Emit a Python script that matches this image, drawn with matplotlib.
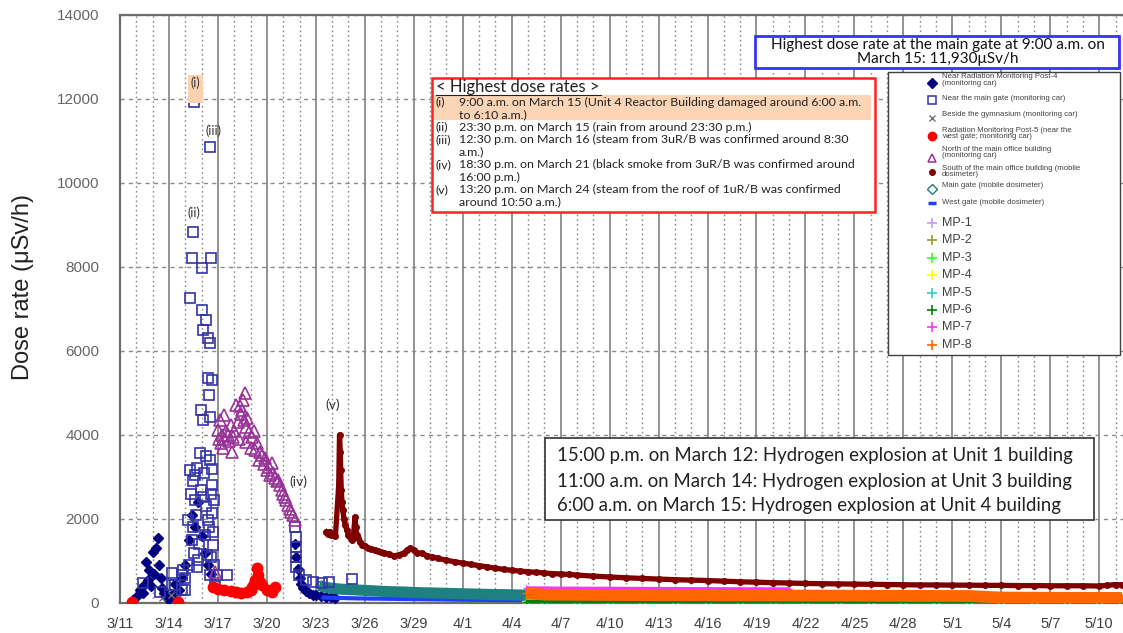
import matplotlib
matplotlib.use("Agg")
import matplotlib.pyplot as plt
from matplotlib.patches import Rectangle
from matplotlib.lines import Line2D
from matplotlib.ticker import MultipleLocator, FixedLocator
import numpy as np

# ---------------- data (day offset from 3/11 00:00, dose rate uSv/h) ----------------
tick_days = list(range(0, 61, 3))
tick_labels = ["3/11", "3/14", "3/17", "3/20", "3/23", "3/26", "3/29", "4/1", "4/4", "4/7",
               "4/10", "4/13", "4/16", "4/19", "4/22", "4/25", "4/28", "5/1", "5/4", "5/7", "5/10"]

post4_day = [0.8, 1.0, 1.2, 1.4, 1.5, 1.6, 1.7, 1.8, 1.9, 2.0, 2.1, 2.2, 2.3, 2.4, 2.5, 2.6, 2.7, 2.8,
             2.9, 3.0, 3.2, 3.4, 3.6, 3.8, 4.0, 4.2, 4.4, 4.6, 4.8, 5.0, 5.2, 5.4, 5.6,
             10.7, 10.8, 10.9, 11.0, 11.1, 11.2, 11.4, 11.6, 11.8, 12.0, 12.3, 12.6, 12.9, 13.2]
post4_val = [60, 150, 300, 250, 420, 980, 550, 790, 400, 1210, 700, 1310, 1550, 900, 600, 350, 250, 180,
             120, 90, 200, 450, 300, 600, 900, 1500, 2100, 1800, 2400, 1600, 1200, 900, 700,
             1400, 1100, 800, 600, 450, 350, 280, 230, 200, 180, 160, 150, 140, 130]

gate_day = [1.4, 2.45, 3.2, 3.2, 3.37, 3.8, 3.8, 3.86, 3.98, 4.0, 4.17, 4.25, 4.29, 4.29, 4.35, 4.41, 4.41,
            4.45, 4.47, 4.5, 4.53, 4.55, 4.6, 4.6, 4.65, 4.72, 4.72, 4.78, 4.85, 4.9, 4.95, 4.96, 5.02,
            5.02, 5.09, 5.09, 5.09, 5.15, 5.2, 5.25, 5.27, 5.3, 5.33, 5.39, 5.39, 5.39, 5.45, 5.45, 5.51,
            5.51, 5.51, 5.51, 5.51, 5.55, 5.58, 5.6, 5.64, 5.64, 5.64, 5.65, 5.7, 5.7, 5.75, 5.76, 5.85,
            5.94, 6.56, 10.72, 10.8, 10.8, 10.8, 10.8, 10.97, 11.4, 11.8, 12.4, 12.8, 14.2]
gate_val = [470, 260, 430, 710, 430, 670, 310, 790, 310, 600, 1980, 900, 3170, 7260, 2600, 8210, 1500,
            2900, 8830, 1800, 11930, 1200, 3050, 2450, 2100, 3210, 860, 1020, 1400, 3570, 2700, 4590, 7970,
            6970, 6500, 4360, 2520, 3100, 1620, 2300, 6740, 3500, 1140, 6300, 5350, 1980, 4950, 1800, 10850,
            6200, 4430, 3400, 670, 1100, 8210, 2600, 5300, 2800, 2140, 3200, 1380, 1700, 900, 2450, 400,
            670, 670, 1810, 1570, 1330, 1090, 860, 670, 550, 500, 475, 500, 570]

gym_day = [2.6, 3.1, 3.6]
gym_val = [120, 180, 150]

post5_day = [0.74, 3.55, 5.7, 6.0, 6.4, 6.8, 7.1, 7.4, 7.78, 8.0, 8.09, 8.2, 8.27, 8.39, 8.46, 8.6, 8.7,
             9.0, 9.3, 9.5]
post5_val = [30, 30, 380, 340, 310, 280, 260, 250, 260, 300, 380, 450, 550, 830, 670, 500, 430,
             310, 260, 380]

north_day = [5.8, 6.0, 6.05, 6.1, 6.2, 6.25, 6.3, 6.4, 6.45, 6.5, 6.6, 6.7, 6.8, 6.85, 6.9, 7.0, 7.1,
             7.2, 7.3, 7.35, 7.4, 7.5, 7.55, 7.6, 7.65, 7.7, 7.75, 7.8, 7.9, 8.0, 8.1, 8.2, 8.3, 8.4, 8.5,
             8.6, 8.7, 8.8, 8.9, 9.0, 9.1, 9.2, 9.3, 9.4, 9.5, 9.6, 9.7, 9.8, 9.9, 10.0, 10.1, 10.2,
             10.3, 10.4, 10.5, 10.6, 10.7]
north_val = [740, 4120, 3900, 4360, 3800, 4000, 3700, 4470, 3900, 4100, 4000, 3850, 4240, 3600, 3950,
             4100, 4710, 4300, 3900, 4700, 4500, 4600, 4830, 4350, 5000, 3830, 4200, 4400, 4070, 3700,
             3950, 4100, 3640, 3800, 3400, 3600, 3520, 3300, 3450, 3170, 3250, 3050, 3330, 3100, 2980,
             2900, 2930, 2800, 2690, 2600, 2520, 2450, 2330, 2250, 2170, 2100, 1980]

south_day = [12.65, 12.75, 12.85, 12.95, 13.05, 13.2, 13.4, 13.45, 13.5, 13.52, 13.56, 13.6, 13.65, 13.72,
             13.8, 13.9, 14.0, 14.1, 14.2, 14.3, 14.4, 14.45, 14.5, 14.6, 14.7, 14.85, 15.0, 15.2, 15.4,
             15.6, 15.8, 16.0, 16.2, 16.5, 16.8, 17.1, 17.4, 17.6, 17.8, 18.0, 18.2, 18.5, 18.8, 19.1,
             19.5, 20.0, 20.5, 21.0, 21.5, 22.0, 22.5, 23.0, 23.5, 24.0, 24.5, 25.0, 25.5, 26.0, 26.5,
             27.0, 27.5, 28.0, 29.0, 30.0, 31.0, 32.0, 33.0, 34.0, 35.0, 36.0, 37.0, 38.0, 39.0, 40.0,
             41.0, 42.0, 43.0, 44.0, 45.0, 46.0, 47.0, 48.0, 49.0, 50.0, 51.0, 52.0, 53.0, 54.0, 55.0,
             56.0, 57.0, 58.0, 59.0, 60.0, 60.5, 61.0, 61.4]
south_val = [1690, 1650, 1700, 1620, 1640, 1600, 2800, 4000, 3600, 3170, 2690, 2400, 2210, 2000,
             1860, 1750, 1620, 1560, 1500, 1600, 2050, 1800, 1620, 1550, 1450, 1380, 1350, 1310, 1290,
             1260, 1240, 1210, 1190, 1160, 1120, 1150, 1190, 1260, 1310, 1260, 1200, 1180, 1130, 1100,
             1060, 1020, 980, 950, 920, 890, 860, 830, 800, 780, 760, 745, 730, 715, 700,
             690, 680, 665, 640, 620, 600, 585, 570, 555, 545, 535, 520, 505, 495, 485,
             475, 465, 460, 455, 450, 445, 440, 435, 430, 430, 425, 425, 420, 420, 415,
             415, 410, 410, 410, 405, 420, 440, 430]

mgate_day = [12.2, 12.5, 13.0, 13.5, 14.0, 14.5, 15.0, 15.5, 16.0, 16.5, 17.0, 17.5, 18.0, 18.5, 19.0,
             19.5, 20.0, 20.5, 21.0, 21.5, 22.0, 22.5, 23.0, 23.5, 24.0, 24.5, 25.0]
mgate_val = [420, 380, 350, 330, 320, 310, 300, 290, 280, 270, 265, 260, 250, 245, 240,
             235, 230, 225, 220, 215, 210, 205, 200, 200, 195, 190, 190]

wgate_day = [12.5, 13.5, 14.5, 15.5, 16.5, 17.5, 18.5, 19.5, 20.5, 21.5, 22.5, 23.5, 24.5]
wgate_val = [130, 120, 110, 105, 100, 95, 90, 85, 80, 75, 75, 70, 70]

mp_day = [24.9, 26, 28, 30, 32, 34, 36, 38, 40, 42, 44, 46, 48, 50, 52, 54, 56, 58, 60, 61.4]
mp1_val = [2, 2, 2, 3, 3, 3, 3, 3, 3, 3, 3, 3, 3, 3, 3, 3, 3, 3, 3, 3]
mp2_val = [70, 68, 66, 65, 64, 63, 62, 61, 60, 60, 59, 58, 58, 57, 57, 56, 56, 55, 55, 55]
mp3_val = [50, 49, 48, 47, 46, 45, 45, 44, 44, 43, 43, 42, 42, 41, 41, 40, 40, 40, 40, 40]
mp4_val = [12, 11, 11, 10, 10, 10, 10, 9, 9, 9, 9, 9, 8, 8, 8, 8, 8, 8, 8, 8]
mp5_val = [6, 6, 6, 6, 5, 5, 5, 5, 5, 5, 5, 5, 5, 5, 5, 5, 5, 5, 5, 5]
mp6_val = [25, 24, 24, 23, 23, 22, 22, 22, 21, 21, 21, 20, 20, 20, 20, 20, 20, 20, 20, 20]
mp7_day = [24.9, 26, 28, 30, 32, 34, 36, 38, 40, 41]
mp7_val = [350, 345, 340, 338, 335, 332, 330, 328, 325, 325]
mp8_val = [240, 200, 195, 190, 188, 185, 182, 180, 178, 176, 174, 172, 170, 168, 166, 130, 126, 124, 122, 120]

# ---------------- figure ----------------
W, H = 1123, 633
plt.rcParams['font.family'] = ['Liberation Sans', 'DejaVu Sans']
fig = plt.figure(figsize=(W / 100, H / 100), dpi=100)
fig.patch.set_facecolor('white')

def fx(x):
    return x / W

def fy(y):
    return 1 - y / H

ax = fig.add_axes([fx(120), 1 - 603 / H, (W - 120) / W, (603 - 15) / H])
ax.set_xlim(0, (W - 120) / 16.32)
ax.set_ylim(0, 14000)
ax.set_axisbelow(True)

ax.xaxis.set_major_locator(FixedLocator(tick_days))
ax.set_xticklabels(tick_labels)
ax.xaxis.set_minor_locator(MultipleLocator(1))
ax.yaxis.set_major_locator(MultipleLocator(2000))
ax.tick_params(axis='both', which='both', length=0)
ax.tick_params(axis='x', pad=10, labelsize=10.5, labelcolor='#404040')
ax.tick_params(axis='y', pad=15, labelsize=11, labelcolor='#666666')
ax.grid(which='major', axis='x', color='#8a8a8a', lw=1.3, ls='-')
ax.grid(which='minor', axis='x', color='#8a8a8a', lw=1.0, ls=(0, (1.2, 2.2)))
ax.grid(which='major', axis='y', color='#8a8a8a', lw=1.0, ls=(0, (3, 3)))
for s in ['left', 'top', 'bottom']:
    ax.spines[s].set_color('#6e6e6e')
    ax.spines[s].set_linewidth(1.6)
ax.spines['right'].set_visible(False)
ax.set_ylabel('Dose rate (μSv/h)', fontsize=17, color='#222222', va='center')
ax.yaxis.set_label_coords((23 - 120) / (W - 120), (603 - 287) / 588)

# ---------------- series ----------------
c_post4 = '#000080'
c_gate = '#3333aa'
c_gym = '#707070'
c_post5 = '#ff0000'
c_north = '#993399'
c_south = '#800000'
c_mgate = '#1f8080'
c_wgate = '#1f3fff'
mp_colors = ['#cc99ff', '#999933', '#33ff33', '#ffff00', '#33cccc', '#008000', '#ff33ff', '#ff6600']

ax.plot(post4_day, post4_val, ls='none', marker='D', ms=5.5, color=c_post4, zorder=3)
ax.plot(gate_day, gate_val, ls='none', marker='s', ms=7.5, mfc='none', mec=c_gate, mew=1.2, zorder=4)
ax.plot(gym_day, gym_val, ls='none', marker='x', ms=5, color=c_gym, zorder=3)
ax.plot(post5_day, post5_val, ls='none', marker='o', ms=7.5, color=c_post5, zorder=4)
ax.plot(north_day, north_val, ls='none', marker='^', ms=8, mfc='none', mec=c_north, mew=1.2, zorder=4)
ax.plot(wgate_day, wgate_val, ls='-', lw=3, color=c_wgate, marker='_', ms=6, zorder=3)
ax.plot(mgate_day, mgate_val, ls='-', lw=8, color=c_mgate, marker='D', ms=4, mfc='none', mec=c_mgate,
        solid_capstyle='butt', zorder=3)
ax.plot(south_day, south_val, ls='-', lw=3.8, color=c_south, marker='o', ms=4, zorder=5)

mp_vals = [mp1_val, mp2_val, mp3_val, mp4_val, mp5_val, mp6_val]
for vals, col in zip(mp_vals, mp_colors[:6]):
    ax.plot(mp_day, vals, ls='-', lw=3, color=col, marker='+', ms=5, solid_capstyle='butt', zorder=3)
ax.plot(mp7_day, mp7_val, ls='-', lw=3, color=mp_colors[6], marker='+', ms=5, solid_capstyle='butt', zorder=3)
ax.plot(mp_day, mp8_val, ls='-', lw=8.5, color=mp_colors[7], marker='+', ms=6, solid_capstyle='butt', zorder=3)

# ---------------- annotations on points ----------------
fig.add_artist(Rectangle((fx(188), fy(103)), 15 / W, 28 / H, transform=fig.transFigure,
                         facecolor='#fbd3b0', edgecolor='none', zorder=0.5))
ann_font = dict(fontsize=9, color='#333333', family=['Lato', 'DejaVu Sans'], ha='center', va='center')
fig.text(fx(195), fy(83), '(i)', **ann_font)
fig.text(fx(214), fy(131), '(iii)', **ann_font)
fig.text(fx(194), fy(213), '(ii)', **ann_font)
fig.text(fx(298), fy(482), '(iv)', fontsize=10, color='#333333', family=['Lato', 'DejaVu Sans'],
         ha='center', va='center')
fig.text(fx(333), fy(405), '(v)', fontsize=10, color='#333333', family=['Lato', 'DejaVu Sans'],
         ha='center', va='center')

# ---------------- blue box ----------------
fig.add_artist(Rectangle((fx(755), fy(68)), (1119 - 755) / W, 32 / H, transform=fig.transFigure,
                         facecolor='white', edgecolor='#3333ff', lw=2, zorder=6))
fig.text(fx(938), fy(52), 'Highest dose rate at the main gate at 9:00 a.m. on\nMarch 15: 11,930μSv/h',
         ha='center', va='center', fontsize=11.0, linespacing=0.95, color='#111111',
         family=['Lato', 'DejaVu Sans'], zorder=7)

# ---------------- red box ----------------
fig.add_artist(Rectangle((fx(432), fy(212)), (875 - 432) / W, (212 - 78) / H, transform=fig.transFigure,
                         facecolor='white', edgecolor='#ff2020', lw=1.8, zorder=6))
fig.add_artist(Rectangle((fx(434), fy(120)), (871 - 434) / W, (120 - 95) / H, transform=fig.transFigure,
                         facecolor='#fbd5b5', edgecolor='none', zorder=6.5))
tf = dict(family=['Lato', 'DejaVu Sans'], color='#222222', zorder=7, va='center', ha='left')
fig.text(fx(436), fy(87), '< Highest dose rates >', fontsize=12, **tf)
fig.add_artist(Line2D([fx(436), fx(601)], [fy(95), fy(95)], transform=fig.transFigure,
                      color='#222222', lw=0.8, zorder=7))
rows = [
    ('(i)', '9:00 a.m. on March 15 (Unit 4 Reactor Building damaged around 6:00 a.m.', 102),
    ('', 'to 6:10 a.m.)', 114.5),
    ('(ii)', '23:30 p.m. on March 15 (rain from around 23:30 p.m.)', 127),
    ('(iii)', '12:30 p.m. on March 16 (steam from 3uR/B was confirmed around 8:30', 139.5),
    ('', 'a.m.)', 152),
    ('(iv)', '18:30 p.m. on March 21 (black smoke from 3uR/B was confirmed around', 164.5),
    ('', '16:00 p.m.)', 177),
    ('(v)', '13:20 p.m. on March 24 (steam from the roof of 1uR/B was confirmed', 189.5),
    ('', 'around 10:50 a.m.)', 202),
]
for lab, txt, yy in rows:
    if lab:
        fig.text(fx(436), fy(yy), lab, fontsize=8.9, **tf)
    fig.text(fx(459), fy(yy), txt, fontsize=8.9, **tf)

# ---------------- black box ----------------
fig.add_artist(Rectangle((fx(545), fy(520)), (1094 - 545) / W, (520 - 438) / H, transform=fig.transFigure,
                         facecolor='white', edgecolor='#333333', lw=1.2, zorder=6))
for yy, txt in [(456, '15:00 p.m. on March 12: Hydrogen explosion at Unit 1 building'),
                (481, '11:00 a.m. on March 14: Hydrogen explosion at Unit 3 building'),
                (505, '6:00 a.m. on March 15: Hydrogen explosion at Unit 4 building')]:
    fig.text(fx(557), fy(yy), txt, fontsize=13.4, **tf)

# ---------------- legend (manual box) ----------------
fig.add_artist(Rectangle((fx(888), fy(355)), (1120 - 888) / W, (355 - 72) / H, transform=fig.transFigure,
                         facecolor='white', edgecolor='#404040', lw=1.0, zorder=6))
leg_entries = [
    (dict(marker='D', ms=5, color=c_post4), 'Near Radiation Monitoring Post-4\n(monitoring car)', 83, 80, 5.6),
    (dict(marker='s', ms=6, mfc='none', mec=c_gate, mew=1.1), 'Near the main gate (monitoring car)', 100, 98, 5.6),
    (dict(marker='x', ms=5, color=c_gym), 'Beside the gymnasium (monitoring car)', 118, 115, 5.6),
    (dict(marker='o', ms=6, color=c_post5), 'Radiation Monitoring Post-5 (near the\nwest gate; monitoring car)', 136, 133.5, 5.6),
    (dict(marker='^', ms=6, mfc='none', mec=c_north, mew=1.1), 'North of the main office building\n(monitoring car)', 158, 152.5, 5.6),
    (dict(marker='o', ms=4, color=c_south), 'South of the main office building (mobile\ndosimeter)', 172, 171.5, 5.6),
    (dict(marker='D', ms=5, mfc='none', mec=c_mgate, mew=1.0), 'Main gate (mobile dosimeter)', 189, 186, 5.6),
    (dict(marker='_', ms=6, mew=2.5, color=c_wgate), 'West gate (mobile dosimeter)', 203, 202, 5.6),
]
for i, col in enumerate(mp_colors):
    yy = 223 + i * 17.4
    leg_entries.append((dict(marker='+', ms=7, mew=1.2, color=col), 'MP-%d' % (i + 1), yy, yy, 9))
for style, lab, my, ty, fs in leg_entries:
    fig.add_artist(Line2D([fx(932)], [fy(my)], transform=fig.transFigure, ls='none', zorder=7, **style))
    fig.text(fx(942), fy(ty), lab, fontsize=fs, color='#404040', va='center', ha='left',
             linespacing=0.95, zorder=7)

fig.savefig('out.png', dpi=100, facecolor='white')
